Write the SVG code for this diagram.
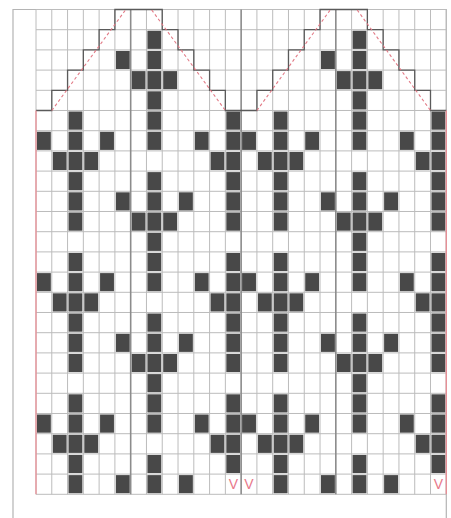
<svg xmlns="http://www.w3.org/2000/svg" xmlns:xlink="http://www.w3.org/1999/xlink" width="451" height="518" viewBox="0 0 451 518">
<style>
.bg{fill:#ffffff}
.frame{fill:none;stroke:#b4b4b4;stroke-width:1.2}
.grid{fill:none;stroke:#bcbcbc;stroke-width:1}
.thick{fill:none;stroke:#8c8c8c;stroke-width:1.6}
.stair{fill:none;stroke:#5a5a5a;stroke-width:1.3}
.red{fill:none;stroke:#ec8a92;stroke-width:1.2}
.dash{fill:none;stroke:#e27a86;stroke-width:1.1;stroke-dasharray:3 2.5}
.cell{fill:#484848}
.mark{font-family:"Liberation Sans",Arial,sans-serif;font-size:14px;fill:#e8788a;text-anchor:middle}
</style>
<defs>
<rect id="c" class="cell" x="0.06" y="0.05" width="0.88" height="0.9"/>
<g id="p5"><use href="#c" x="2"/><use href="#c" x="7"/><use href="#c" x="12"/><use href="#c" x="15"/><use href="#c" x="20"/><use href="#c" x="25"/></g>
<g id="p6"><use href="#c" x="0"/><use href="#c" x="2"/><use href="#c" x="4"/><use href="#c" x="7"/><use href="#c" x="10"/><use href="#c" x="12"/><use href="#c" x="13"/><use href="#c" x="15"/><use href="#c" x="17"/><use href="#c" x="20"/><use href="#c" x="23"/><use href="#c" x="25"/></g>
<g id="p7"><use href="#c" x="1"/><use href="#c" x="2"/><use href="#c" x="3"/><use href="#c" x="11"/><use href="#c" x="12"/><use href="#c" x="14"/><use href="#c" x="15"/><use href="#c" x="16"/><use href="#c" x="24"/><use href="#c" x="25"/></g>
<g id="p9"><use href="#c" x="2"/><use href="#c" x="5"/><use href="#c" x="7"/><use href="#c" x="9"/><use href="#c" x="12"/><use href="#c" x="15"/><use href="#c" x="18"/><use href="#c" x="20"/><use href="#c" x="22"/><use href="#c" x="25"/></g>
<g id="p10"><use href="#c" x="2"/><use href="#c" x="6"/><use href="#c" x="7"/><use href="#c" x="8"/><use href="#c" x="12"/><use href="#c" x="15"/><use href="#c" x="19"/><use href="#c" x="20"/><use href="#c" x="21"/><use href="#c" x="25"/></g>
<g id="p11"><use href="#c" x="7"/><use href="#c" x="20"/></g>
</defs>
<rect class="bg" x="0" y="0" width="451" height="518"/>
<g id="frame"><path class="frame" d="M13 518 V9.5 H446.3 V518"/></g>
<g id="chart" transform="translate(36 9.5) scale(15.78 20.2)">
<g id="cells">
<use href="#c" x="7" y="1"/><use href="#c" x="20" y="1"/>
<use href="#c" x="5" y="2"/><use href="#c" x="7" y="2"/><use href="#c" x="18" y="2"/><use href="#c" x="20" y="2"/>
<use href="#c" x="6" y="3"/><use href="#c" x="7" y="3"/><use href="#c" x="8" y="3"/><use href="#c" x="19" y="3"/><use href="#c" x="20" y="3"/><use href="#c" x="21" y="3"/>
<use href="#c" x="7" y="4"/><use href="#c" x="20" y="4"/>
<use href="#p5" y="5"/><use href="#p6" y="6"/><use href="#p7" y="7"/><use href="#p5" y="8"/><use href="#p9" y="9"/><use href="#p10" y="10"/><use href="#p11" y="11"/>
<use href="#p5" y="12"/><use href="#p6" y="13"/><use href="#p7" y="14"/><use href="#p5" y="15"/><use href="#p9" y="16"/><use href="#p10" y="17"/><use href="#p11" y="18"/>
<use href="#p5" y="19"/><use href="#p6" y="20"/><use href="#p7" y="21"/><use href="#p5" y="22"/>
<use href="#c" x="2" y="23"/><use href="#c" x="5" y="23"/><use href="#c" x="7" y="23"/><use href="#c" x="9" y="23"/><use href="#c" x="15" y="23"/><use href="#c" x="18" y="23"/><use href="#c" x="20" y="23"/><use href="#c" x="22" y="23"/>
</g>
<g id="gridlines">
<path class="grid" vector-effect="non-scaling-stroke" d="M0 0V24M1 0V24M2 0V24M3 0V24M4 0V24M5 0V24M7 0V24M8 0V24M9 0V24M10 0V24M11 0V24M12 0V24M14 0V24M15 0V24M16 0V24M17 0V24M18 0V24M20 0V24M21 0V24M22 0V24M23 0V24M24 0V24M25 0V24M26 0V24M0 0H26M0 1H26M0 2H26M0 3H26M0 4H26M0 5H26M0 6H26M0 7H26M0 8H26M0 9H26M0 10H26M0 11H26M0 12H26M0 13H26M0 14H26M0 15H26M0 16H26M0 17H26M0 18H26M0 19H26M0 20H26M0 21H26M0 22H26M0 23H26M0 24H26"/>
<path class="thick" vector-effect="non-scaling-stroke" d="M6 0V24M13 0V24M19 0V24"/>
</g>
<g id="outline">
<path class="stair" vector-effect="non-scaling-stroke" d="M0 5H1V4H2V3H3V2H4V1H5V0H8V1H9V2H10V3H11V4H12V5H14V4H15V3H16V2H17V1H18V0H21V1H22V2H23V3H24V4H25V5H26"/>
<path class="red" vector-effect="non-scaling-stroke" d="M0 5V24M26 5V24"/>
</g>
</g>
<g id="decrease-lines">
<path class="dash" d="M51.8 110.5L125.5 10M151.7 10L225.4 110.5M256.9 110.5L330.2 10M357.2 10L430.5 110.5"/>
</g>
<g id="marks">
<text class="mark" x="233.3" y="489">V</text>
<text class="mark" x="249" y="489">V</text>
<text class="mark" x="438.4" y="489">V</text>
</g>
</svg>
